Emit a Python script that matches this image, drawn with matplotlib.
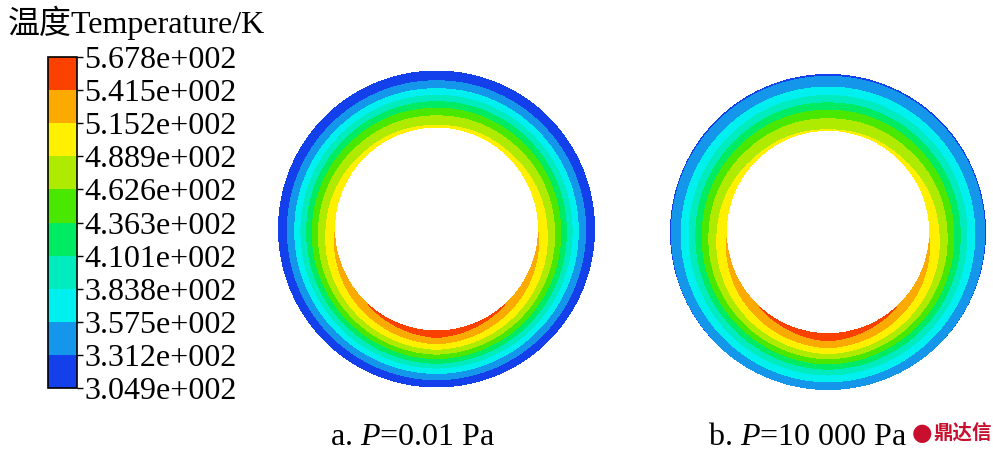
import numpy as np
import matplotlib
matplotlib.use("Agg")
import matplotlib.pyplot as plt
from matplotlib.colors import ListedColormap, BoundaryNorm
import matplotlib.cm as cm

plt.rcParams['font.family'] = ['Liberation Serif', 'Noto Sans CJK SC', 'DejaVu Sans']
plt.rcParams['mathtext.fontset'] = 'custom'
plt.rcParams['mathtext.rm'] = 'Liberation Serif'
plt.rcParams['mathtext.it'] = 'Liberation Serif:italic'

# legend levels (K) and band colours
levels = [304.9, 331.2, 357.5, 383.8, 410.1, 436.3, 462.6, 488.9, 515.2, 541.5, 567.8]
tick_labels = ["3.049e+002", "3.312e+002", "3.575e+002", "3.838e+002", "4.101e+002",
               "4.363e+002", "4.626e+002", "4.889e+002", "5.152e+002", "5.415e+002",
               "5.678e+002"]
band_colors = ["#1440eb", "#1496eb", "#00f0f0", "#00ebbe", "#00eb64",
               "#4ae800", "#afeb00", "#fff000", "#faaa00", "#fa4100"]

# pipe section (normalised radii)
r_inner = 0.645
r_outer = 1.0

# wall temperatures read around the ring (angle from +x, counter-clockwise)
wall_angles = [0, 45, 90, 135, 180, 225, 270, 315, 360]
inner_T_a = [514, 498, 493, 498, 514, 540, 565, 540, 514]
outer_T_a = [305, 305, 305, 305, 305, 305, 305, 305, 305]
inner_T_b = [513, 495, 490, 495, 513, 540, 565, 540, 513]
outer_T_b = [329, 328, 327, 328, 329, 331, 333, 331, 329]

captions = ["a. $P$=0.01 Pa", "b. $P$=10 000 Pa"]

W, H = 993, 453
fig = plt.figure(figsize=(W / 100, H / 100), dpi=100)

cmap = ListedColormap(band_colors)
norm = BoundaryNorm(levels, cmap.N)


def px_axes(x0, y0, w, h):
    # pixel box measured from the top-left corner
    return fig.add_axes([x0 / W, (H - y0 - h) / H, w / W, h / H])


def ring(ax, t_in, t_out):
    th = np.linspace(0, 2 * np.pi, 361)
    r = np.linspace(r_inner, r_outer, 150)
    R, TH = np.meshgrid(r, th)
    deg = np.degrees(TH)
    ti = np.interp(deg, wall_angles, t_in)
    to = np.interp(deg, wall_angles, t_out)
    s = (r_outer - R) / (r_outer - r_inner)
    frac = s - 0.25 * np.sin(2 * np.pi * s) / (2 * np.pi)
    T = to + (ti - to) * frac
    ax.contourf(R * np.cos(TH), R * np.sin(TH), T, levels=levels, cmap=cmap, norm=norm,
                extend='both')
    lim = 1.08
    ax.set_xlim(-lim, lim)
    ax.set_ylim(-lim, lim)
    ax.set_aspect('equal')
    ax.axis('off')


# ring a: centre (436.5, 229) px, outer radius 158 px
half = 1.08 * 158
ax_a = px_axes(436.5 - half, 229 - half, 2 * half, 2 * half)
ring(ax_a, inner_T_a, outer_T_a)

half_b = 1.08 * 157.5
ax_b = px_axes(828 - half_b, 232 - half_b, 2 * half_b, 2 * half_b)
ring(ax_b, inner_T_b, outer_T_b)

# colour legend
cax = px_axes(48, 57, 29, 331)
sm = cm.ScalarMappable(norm=norm, cmap=cmap)
cb = fig.colorbar(sm, cax=cax, ticks=levels)
cb.ax.set_yticklabels(tick_labels)
cb.ax.tick_params(labelsize=23, length=4, width=1, pad=1, direction='out')
cb.outline.set_linewidth(1.2)

fig.text(8 / W, 1 - 33 / H, "温度Temperature/K", fontsize=23, va='baseline')

fig.text(330 / W, 1 - 445 / H, captions[0], fontsize=23, va='baseline')
fig.text(708 / W, 1 - 445 / H, captions[1], fontsize=23, va='baseline')

# watermark
fig.text(922 / W, 1 - 433 / H, "●", fontsize=17, color='#c8102e', ha='center',
         va='center', family='DejaVu Sans')
fig.text(933 / W, 1 - 433 / H, "鼎达信", fontsize=14, color='#c8102e', fontweight='bold',
         va='center', family='Noto Sans CJK SC')

fig.savefig("out.png", dpi=100)
